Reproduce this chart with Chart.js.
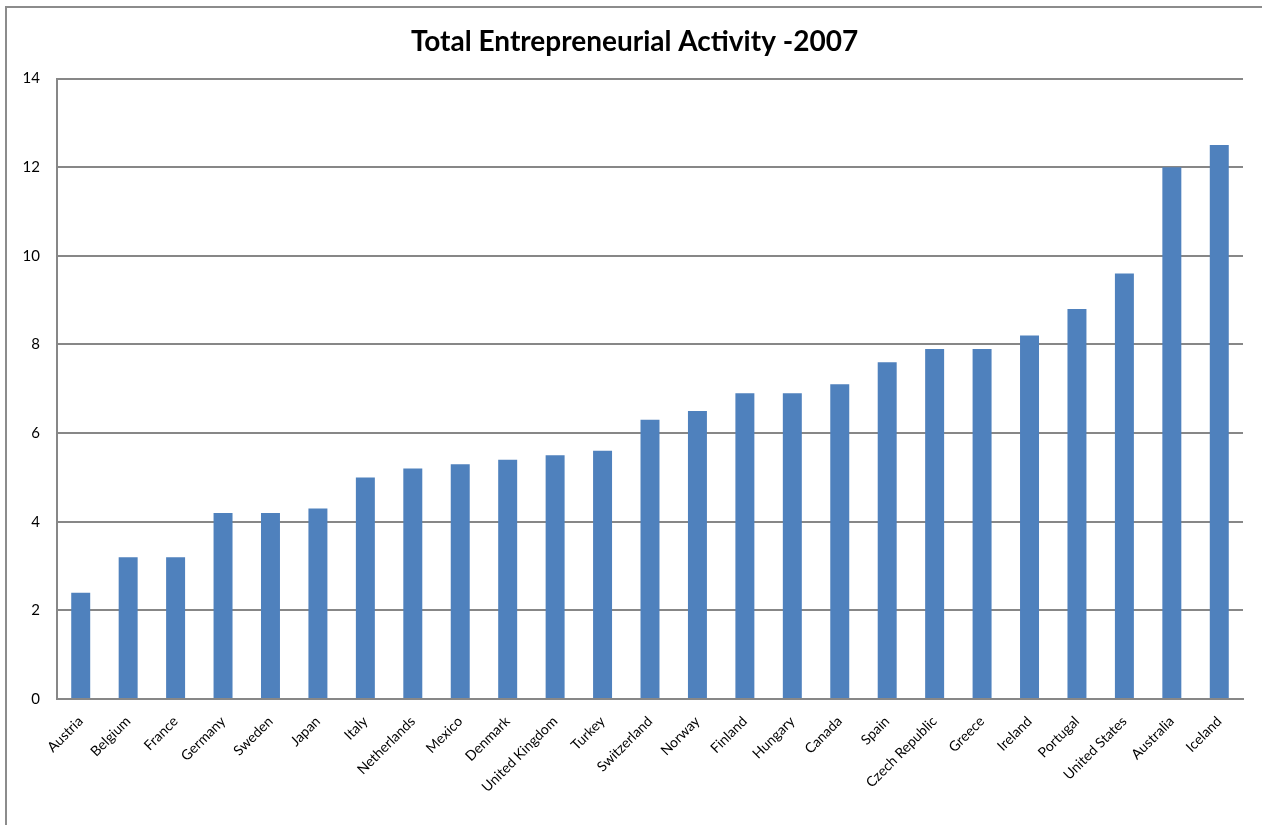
<!DOCTYPE html>
<html>
<head>
<meta charset="utf-8">
<title>Total Entrepreneurial Activity -2007</title>
<script src="https://cdn.jsdelivr.net/npm/chart.js@4/dist/chart.umd.min.js"></script>
<style>
  html, body { margin: 0; padding: 0; background: #fff; overflow: hidden; }
  #wrap { position: relative; width: 1262px; height: 825px; }
  #frame {
    position: absolute; left: 5px; top: 6px; width: 1400px; height: 1000px;
    border-top: 2px solid #8c8c8c; border-left: 2px solid #8c8c8c;
  }
  #teaChart { position: absolute; left: 0; top: 0; }
</style>
</head>
<body>
<div id="wrap">
  <div id="frame"></div>
  <canvas id="teaChart" width="1262" height="825"></canvas>
</div>
<script>
// Countries, in the order they appear on the axis
const countries = ['Austria', 'Belgium', 'France', 'Germany', 'Sweden', 'Japan', 'Italy',
  'Netherlands', 'Mexico', 'Denmark', 'United Kingdom', 'Turkey', 'Switzerland', 'Norway',
  'Finland', 'Hungary', 'Canada', 'Spain', 'Czech Republic', 'Greece', 'Ireland', 'Portugal',
  'United States', 'Australia', 'Iceland'];

// TEA rate per country
const teaValues = [2.4, 3.2, 3.2, 4.2, 4.2, 4.3, 5.0, 5.2, 5.3, 5.4, 5.5, 5.6, 6.3, 6.5,
  6.9, 6.9, 7.1, 7.6, 7.9, 7.9, 8.2, 8.8, 9.6, 12.0, 12.5];

// y axis ticks
const yTicks = [0, 2, 4, 6, 8, 10, 12, 14];

const gridGray = '#878787';
const fontFamily = 'Lato, "Open Sans", sans-serif';

// nudge the title box a little to the right so it sits over the middle of the page
const titleShift = {
    id: 'titleShift',
    afterLayout: function (chart) {
        if (chart.titleBlock) {
            chart.titleBlock.left += 13;
            chart.titleBlock.right += 13;
        }
    }
};

document.addEventListener('DOMContentLoaded', function () {
    const ctx = document.getElementById('teaChart').getContext('2d');

    new Chart(ctx, {
        type: 'bar',
        data: {
            labels: countries,
            datasets: [{
                label: 'TEA 2007',
                data: teaValues,
                backgroundColor: '#4F81BD',
                borderWidth: 0,
                barPercentage: 0.4,
                categoryPercentage: 1.0
            }]
        },
        plugins: [titleShift],
        options: {
            responsive: false,
            animation: false,
            layout: { padding: { left: 0, right: 19, top: 0, bottom: 0 } },
            plugins: {
                legend: { display: false },
                tooltip: { enabled: false },
                title: {
                    display: true,
                    text: 'Total Entrepreneurial Activity -2007',
                    color: '#000',
                    font: { family: fontFamily, size: 28, weight: 'bold', lineHeight: 1.2 },
                    padding: { top: 25, bottom: 20 }
                }
            },
            scales: {
                x: {
                    grid: { display: false, drawTicks: false },
                    border: { color: gridGray, width: 2 },
                    ticks: {
                        color: '#000',
                        font: { family: fontFamily, size: 14 },
                        maxRotation: 45,
                        minRotation: 45,
                        autoSkip: false,
                        padding: 14
                    },
                    afterFit: function (scale) { scale.height = 126; }
                },
                y: {
                    min: 0,
                    max: 14,
                    afterBuildTicks: function (scale) {
                        scale.ticks = yTicks.map(v => ({ value: v }));
                    },
                    grid: { color: gridGray, lineWidth: 2, drawTicks: false },
                    border: { color: gridGray, width: 2 },
                    ticks: {
                        color: '#000',
                        font: { family: fontFamily, size: 15 },
                        padding: 17
                    },
                    afterFit: function (scale) { scale.width = 57; }
                }
            }
        }
    });
});
</script>
</body>
</html>
